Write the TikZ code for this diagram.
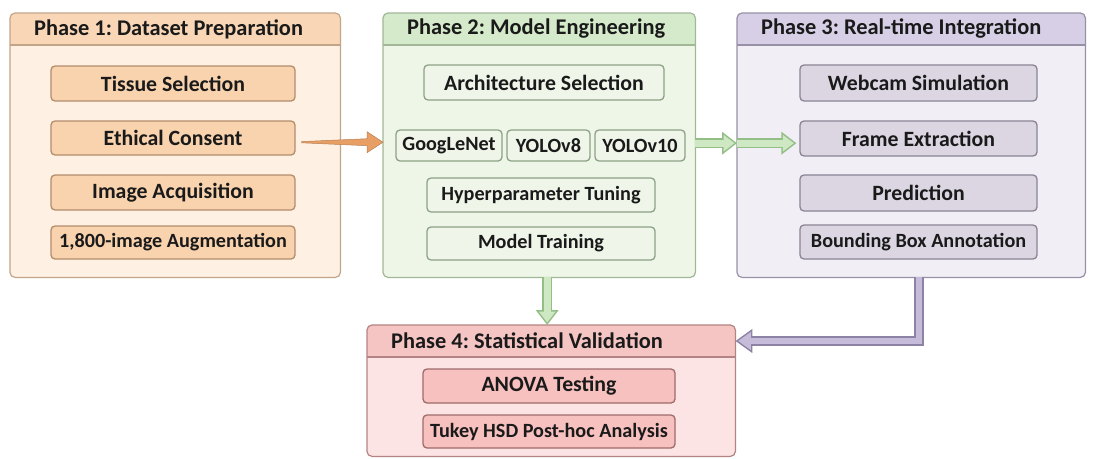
\documentclass[tikz,border=0pt]{standalone}
\usepackage{fontspec}
\setmainfont{Carlito}
\frenchspacing
\usetikzlibrary{arrows.meta,calc}

\definecolor{ink}{HTML}{1A1A1A}
\definecolor{dataBody}{HTML}{FEF0E2}
\definecolor{dataHead}{HTML}{F9D7B6}
\definecolor{dataLine}{HTML}{C2A589}
\definecolor{dataTask}{HTML}{F9D3AE}
\definecolor{dataTaskLine}{HTML}{B38D6C}
\definecolor{dataArrow}{HTML}{E89F66}
\definecolor{modelBody}{HTML}{EEF6E8}
\definecolor{modelHead}{HTML}{D4EACA}
\definecolor{modelLine}{HTML}{A2B798}
\definecolor{modelTask}{HTML}{EFF6E9}
\definecolor{modelTaskLine}{HTML}{8EA285}
\definecolor{modelArrow}{HTML}{CFE8C4}
\definecolor{modelArrowLine}{HTML}{93BE86}
\definecolor{liveBody}{HTML}{F1EEF6}
\definecolor{liveHead}{HTML}{D7CFE5}
\definecolor{liveLine}{HTML}{9790A6}
\definecolor{liveTask}{HTML}{DBD6E2}
\definecolor{liveTaskLine}{HTML}{8A8494}
\definecolor{liveArrow}{HTML}{C6BCDA}
\definecolor{liveArrowLine}{HTML}{8C82A3}
\definecolor{statBody}{HTML}{FDE4E4}
\definecolor{statHead}{HTML}{F5C5C3}
\definecolor{statLine}{HTML}{B38483}
\definecolor{statTask}{HTML}{F6C1BF}
\definecolor{statTaskLine}{HTML}{9E6C6B}

\tikzset{
    panel/.style={fill=#1Body, rounded corners=5pt, inner sep=0pt, anchor=north west},
    phasetitle/.style={inner sep=0pt, text=ink, font=\fontsize{22.4}{26}\selectfont\bfseries},
    task/.style={fill=#1Task, draw=#1TaskLine, line width=1.3pt, rounded corners=4pt,
        inner sep=0pt, text=ink, font=\fontsize{21.8}{24}\selectfont\bfseries},
    small/.style={font=\fontsize{20.2}{22}\selectfont\bfseries},
    % block arrows: dark outline underneath, light core on top
    gEdge/.style={line width=10pt, draw=modelArrowLine, -{Triangle[length=15pt,width=22pt]}},
    gCore/.style={line width=7pt, draw=modelArrow, shorten >=2.5pt, -{Triangle[length=11pt,width=16pt]}},
    pEdge/.style={line width=9.5pt, draw=liveArrowLine, -{Triangle[length=17pt,width=23pt]}},
    pCore/.style={line width=6.5pt, draw=liveArrow, shorten >=2.7pt, -{Triangle[length=12.8pt,width=17.4pt]}}
}

% header band, title and frame of a phase
\newcommand{\phasepanel}[3]{%
    \coordinate (#1hl) at ($(#1.north west)+(0,32)$);
    \coordinate (#1hr) at ($(#1.north east)+(0,32)$);
    \fill[#2Head, rounded corners=5pt] (#1hl) |- (#1.north) -| (#1hr);
    \node[phasetitle, anchor=west] (#1t) at ($(#1.north west)+(24,16)$) {#3};
    \draw[#2Line, line width=1.2pt] (#1hl) -- (#1hr);
    \draw[#2Line, line width=1.2pt, rounded corners=5pt] (#1.south west) rectangle (#1.north east);
}

\begin{document}
\begin{tikzpicture}[x=1pt, y=-1pt]
    \useasboundingbox (0,0) rectangle (1095,458);

    % phase 1
    \node[panel=data, minimum width=330pt, minimum height=264pt] (p1) at (10,13) {};
    \phasepanel{p1}{data}{Phase 1: Dataset Preparation}
    \node[task=data, minimum width=244pt, minimum height=35pt] (ts) at (173,83.5) {Tissue Selection};
    \node[task=data, minimum width=244pt, minimum height=34pt] (ec) at (173,138) {Ethical Consent};
    \node[task=data, minimum width=244pt, minimum height=35pt] (ia) at (173,192.5) {Image Acquisition};
    \node[task=data, small, minimum width=244pt, minimum height=33pt] (au) at (173,242.5) {1,800-image Augmentation};

    % phase 2
    \node[panel=model, minimum width=312pt, minimum height=264pt] (p2) at (383,13) {};
    \phasepanel{p2}{model}{Phase 2: Model Engineering}
    \node[task=model, minimum width=240pt, minimum height=35pt] (as) at (544,82.5) {Architecture Selection};
    \node[task=model, small, minimum width=106pt, minimum height=31pt] (gn) at (449,145.5) {GoogLeNet};
    \node[task=model, small, minimum width=83pt, minimum height=31pt] (y8) at (548.5,145.5) {YOLOv8};
    \node[task=model, small, minimum width=90pt, minimum height=31pt] (y10) at (640,145.5) {YOLOv10};
    \node[task=model, small, minimum width=228pt, minimum height=34pt] (hp) at (541,195) {Hyperparameter Tuning};
    \node[task=model, small, minimum width=228pt, minimum height=33pt] (mt) at (541,243.5) {Model Training};

    % phase 3
    \node[panel=live, minimum width=348pt, minimum height=264pt] (p3) at (737,13) {};
    \phasepanel{p3}{live}{Phase 3: Real-time Integration}
    \node[task=live, minimum width=237pt, minimum height=36pt] (wc) at (918.5,83) {Webcam Simulation};
    \node[task=live, minimum width=237pt, minimum height=35pt] (fe) at (918.5,138.5) {Frame Extraction};
    \node[task=live, minimum width=237pt, minimum height=36pt] (pr) at (918.5,193) {Prediction};
    \node[task=live, small, minimum width=237pt, minimum height=34pt] (bb) at (918.5,242) {Bounding Box Annotation};

    % phase 4
    \node[panel=stat, minimum width=368pt, minimum height=131pt] (p4) at (367,325) {};
    \phasepanel{p4}{stat}{Phase 4: Statistical Validation}
    \node[task=stat, minimum width=252pt, minimum height=34pt] (an) at (549,386) {ANOVA Testing};
    \node[task=stat, small, minimum width=252pt, minimum height=33pt] (tk) at (549,431.5) {Tukey HSD Post-hoc Analysis};

    % 1 -> 2, tapered
    \coordinate (oa) at ($(p2.west)+(0,-3)$);
    \filldraw[fill=dataArrow, draw=dataArrow!80!black, line width=0.5pt]
        ($(ec.east |- oa)+(6,0.6)$) -- ($(oa)+(-16,3.5)$) -- ($(oa)+(-16,10.5)$) -- (oa)
        -- ($(oa)+(-16,-10.5)$) -- ($(oa)+(-16,-3.5)$) -- ($(ec.east |- oa)+(6,-0.6)$) -- cycle;

    % 2 -> 3
    \coordinate (ga) at ($(p2.east)+(0,-2)$);
    \draw[gEdge] (ga) -- (p3.west |- ga);
    \draw[gCore] (ga) -- (p3.west |- ga);
    \draw[gEdge, shorten >=3pt] (p3.west |- ga) -- (fe.west |- ga);
    \draw[gCore, shorten >=5.5pt] (p3.west |- ga) -- (fe.west |- ga);

    % 2 -> 4
    \coordinate (gd) at ($(p2.south)+(8,0)$);
    \draw[gEdge] (gd) -- (gd |- p4.north);
    \draw[gCore] (gd) -- (gd |- p4.north);

    % 3 -> 4
    \coordinate (pd) at ($(p3.south)+(8,0)$);
    \draw[pEdge] (pd) |- (p4.east |- p4t);
    \draw[pCore] (pd) |- (p4.east |- p4t);
\end{tikzpicture}
\end{document}
